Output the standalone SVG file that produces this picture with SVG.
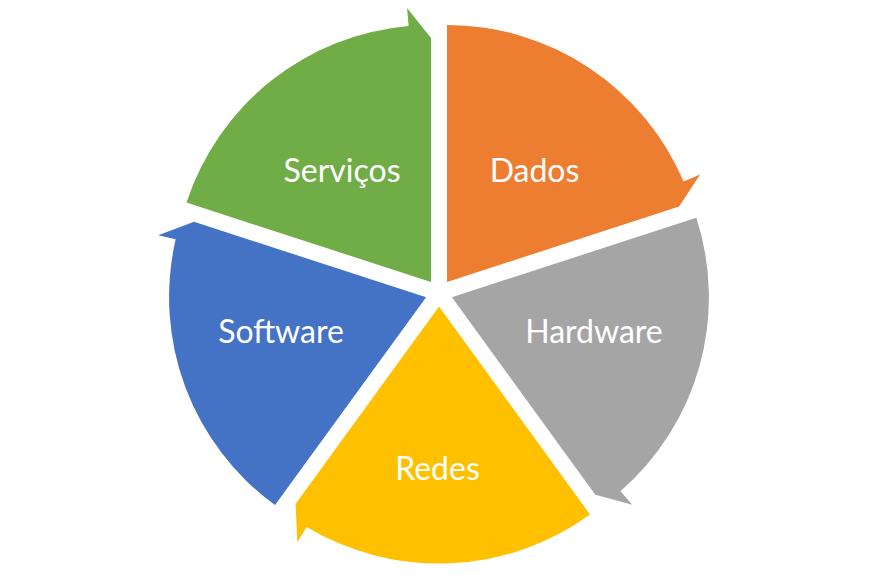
<svg xmlns="http://www.w3.org/2000/svg" width="877" height="587" viewBox="0 0 877 587">
  <defs>
    <path id="seg" d="M0,0 L0,-257 A257,257 0 0 1 236.6,-100.4 L253.1,-107.4 L232.1,-75.4 Z"/>
  </defs>
  <style>
    .lbl { font-family: Lato, "Open Sans", "Liberation Sans", sans-serif; font-size: 32px; fill: #FFFFFF; text-anchor: middle; }
  </style>
  <rect width="877" height="587" fill="#FFFFFF"/>
  <g id="connectors"/>
  <g id="dados">
    <use href="#seg" transform="translate(447,282)" fill="#ED7D31"/>
    <text class="lbl" x="534.5" y="182">Dados</text>
  </g>
  <g id="hardware">
    <use href="#seg" transform="translate(451.9,297.2) rotate(72)" fill="#A5A5A5"/>
    <text class="lbl" x="594" y="343">Hardware</text>
  </g>
  <g id="redes">
    <use href="#seg" transform="translate(439,306.6) rotate(144)" fill="#FFC000"/>
    <text class="lbl" x="437.5" y="480">Redes</text>
  </g>
  <g id="software">
    <use href="#seg" transform="translate(426.1,297.2) rotate(216)" fill="#4472C4"/>
    <text class="lbl" x="281" y="343">Software</text>
  </g>
  <g id="servicos">
    <use href="#seg" transform="translate(431,282) rotate(288)" fill="#70AD47"/>
    <text class="lbl" x="342" y="182">Serviços</text>
  </g>
</svg>
